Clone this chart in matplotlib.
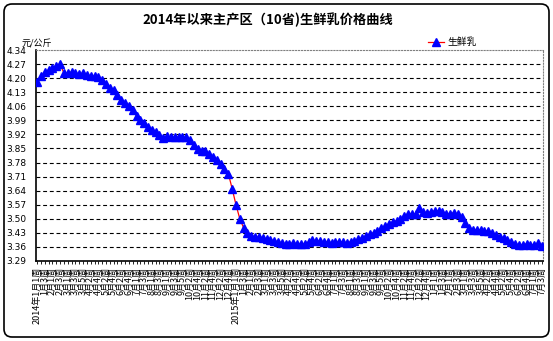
import matplotlib
matplotlib.use('Agg')
import matplotlib.pyplot as plt
from matplotlib.patches import FancyBboxPatch
from matplotlib.transforms import IdentityTransform

plt.rcParams['font.family'] = ['Noto Sans CJK SC', 'DejaVu Sans']

title = '2014年以来主产区（10省)生鲜乳价格曲线'
unit = '元/公斤'
series_name = '生鲜乳'

# weeks per month, per year (weekly price data)
years = [2014, 2015, 2016]
weeks_per_month = {
    2014: [4, 4, 5, 4, 4, 5, 4, 4, 5, 4, 4, 5],
    2015: [4, 4, 5, 4, 4, 5, 4, 4, 5, 4, 4, 5],
    2016: [4, 4, 5, 4, 4, 5, 3],
}

# price, yuan/kg
price = [
    4.18, 4.21, 4.23, 4.24, 4.25, 4.26, 4.27, 4.225, 4.225, 4.23,
    4.225, 4.22, 4.225, 4.215, 4.21, 4.21, 4.205, 4.19, 4.17, 4.15,
    4.14, 4.115, 4.09, 4.075, 4.06, 4.04, 4.01, 3.99, 3.975, 3.955,
    3.94, 3.93, 3.915, 3.90, 3.91, 3.905, 3.905, 3.905, 3.905, 3.905,
    3.89, 3.865, 3.845, 3.835, 3.835, 3.82, 3.81, 3.795, 3.775, 3.75,
    3.725, 3.65, 3.57, 3.50, 3.455, 3.43, 3.415, 3.41, 3.41, 3.405,
    3.40, 3.395, 3.39, 3.385, 3.38, 3.375, 3.375, 3.38, 3.375, 3.375,
    3.375, 3.385, 3.395, 3.39, 3.39, 3.385, 3.385, 3.38, 3.385, 3.385,
    3.385, 3.38, 3.385, 3.39, 3.40, 3.405, 3.415, 3.425, 3.43, 3.44,
    3.455, 3.465, 3.475, 3.485, 3.49, 3.50, 3.515, 3.525, 3.525, 3.525,
    3.555, 3.535, 3.53, 3.535, 3.54, 3.54, 3.535, 3.525, 3.525, 3.53,
    3.525, 3.51, 3.48, 3.455, 3.445, 3.445, 3.445, 3.44, 3.44, 3.43,
    3.42, 3.41, 3.405, 3.395, 3.385, 3.375, 3.37, 3.37, 3.375, 3.37,
    3.37, 3.38, 3.365,
]

yticks = [3.29, 3.36, 3.43, 3.50, 3.57, 3.64, 3.71, 3.78, 3.85, 3.92,
          3.99, 4.06, 4.13, 4.20, 4.27, 4.34]

labels = []
for yr in years:
    for m, nw in enumerate(weeks_per_month[yr], start=1):
        for w in range(1, nw + 1):
            lab = '%d月%d周' % (m, w)
            if m == 1 and w == 1 and yr in (2014, 2015):
                lab = '%d年' % yr + lab
            labels.append(lab)
labels = labels[:len(price)]

x = list(range(len(price)))

fig = plt.figure(figsize=(5.53, 3.41), dpi=100)
ax = fig.add_axes([36 / 553, 1 - 261 / 341, 507 / 553, 211 / 341])

for v in yticks[1:-1]:
    ax.axhline(v, color='black', lw=0.8, ls=(0, (3.5, 2.5)), zorder=1)

ax.plot(x, price, color='red', lw=0.9, marker='^', markersize=5.5,
        markerfacecolor='blue', markeredgecolor='blue', label=series_name,
        zorder=3)

ax.set_xlim(-0.3, len(price) - 0.7)
ax.set_ylim(3.29, 4.34)
ax.set_yticks(yticks)
ax.set_yticklabels(['%.2f' % v for v in yticks], fontsize=6.5,
                   family='DejaVu Sans')
ax.tick_params(axis='y', length=0, pad=7)

ax.set_xticks(x)
ax.set_xticklabels([l if i % 2 == 0 else '' for i, l in enumerate(labels)],
                   rotation=90, fontsize=6.5)
ax.tick_params(axis='x', length=2.5, width=0.6, pad=1.5)

for s in ['top', 'right']:
    ax.spines[s].set_color('gray')
    ax.spines[s].set_linestyle(':')
    ax.spines[s].set_linewidth(0.8)
ax.spines['left'].set_linewidth(1.2)
ax.spines['bottom'].set_linewidth(1.2)

fig.text(268 / 553, 1 - 20 / 341, title, ha='center', va='center',
         fontsize=9.5, fontweight='bold')
fig.text(22 / 553, 1 - 44 / 341, unit, ha='left', va='center', fontsize=6.5)

fig.legend(loc='center left', bbox_to_anchor=(428 / 553, 1 - 42 / 341),
           frameon=False, fontsize=7, handlelength=1.6, handletextpad=0.4,
           borderaxespad=0, borderpad=0)

border = FancyBboxPatch((4, 4), 545, 333,
                        boxstyle='round,pad=0,rounding_size=8',
                        transform=IdentityTransform(), fill=False,
                        edgecolor='black', lw=1.2)
fig.patches.append(border)

fig.savefig('out.png', dpi=100)
